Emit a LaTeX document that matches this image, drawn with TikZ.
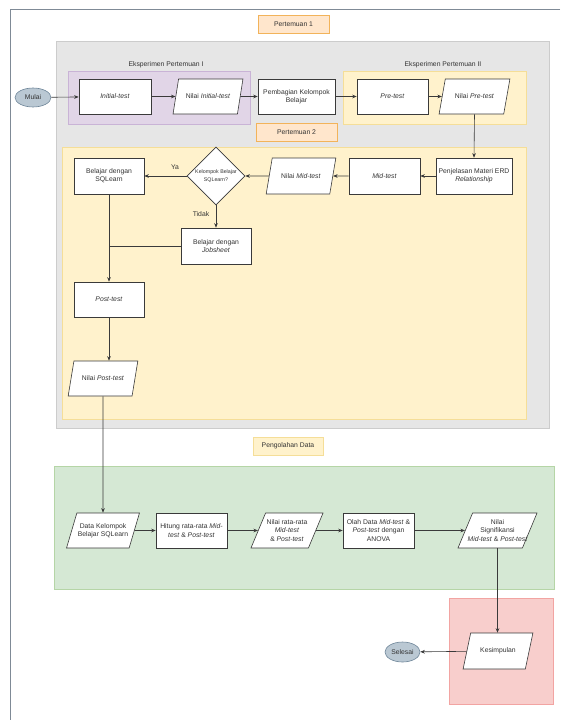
\documentclass[tikz,border=0pt]{standalone}
\usepackage{fontspec}
\setmainfont{Liberation Sans}
\usetikzlibrary{shapes.geometric,arrows.meta}
\definecolor{linec}{HTML}{3A3A3A}
\definecolor{txt}{HTML}{333333}
\definecolor{frame}{HTML}{7F8A96}
\definecolor{grayfill}{HTML}{E6E6E6}
\definecolor{grayline}{HTML}{CCCCCC}
\definecolor{purfill}{HTML}{E1D5E7}
\definecolor{purline}{HTML}{C9B3D6}
\definecolor{yelfill}{HTML}{FFF2CC}
\definecolor{yelline}{HTML}{F5DE98}
\definecolor{orfill}{HTML}{FFE6CC}
\definecolor{orline}{HTML}{F2B35A}
\definecolor{grnfill}{HTML}{D5E8D4}
\definecolor{grnline}{HTML}{B5D5A6}
\definecolor{redfill}{HTML}{F8CECC}
\definecolor{redline}{HTML}{F2A4A2}
\definecolor{termfill}{HTML}{BAC8D3}
\definecolor{termline}{HTML}{6F8699}
\begin{document}
\begin{tikzpicture}[x=1pt,y=-1pt,
  font=\fontsize{6.8}{8.2}\selectfont,
  every node/.style={text=txt},
  proc/.style={rectangle,draw=linec,fill=white,line width=0.6pt,align=center,inner sep=1pt},
  para/.style={trapezium,trapezium left angle=58,trapezium right angle=122,trapezium stretches=true,draw=linec,fill=white,line width=0.6pt,align=center,inner sep=1pt},
  term/.style={ellipse,draw=termline,fill=termfill,line width=0.6pt,inner sep=0pt},
  lab/.style={rectangle,draw=orline,fill=orfill,line width=0.6pt,inner sep=1pt},
  arr/.style={draw=linec,line width=0.6pt,-{Stealth[length=4.5pt,width=3.6pt]}},
  ln/.style={draw=linec,line width=0.6pt}]
\useasboundingbox (0,0) rectangle (560,720);
\fill[white] (0,0) rectangle (560,720);
% outer frame
\draw[frame,line width=0.7pt] (560,9.3) -- (10,9.3) -- (10,720);
% containers
\draw[fill=grayfill,draw=grayline,line width=0.7pt] (56,41) rectangle (549,428);
\draw[fill=purfill,draw=purline,line width=0.7pt] (68,71) rectangle (250,124);
\draw[fill=yelfill,draw=yelline,line width=0.7pt] (343,71) rectangle (526,124);
\draw[fill=yelfill,draw=yelline,line width=0.7pt] (62,147) rectangle (526,419);
\draw[fill=grnfill,draw=grnline,line width=0.7pt] (54,466) rectangle (554,589);
\draw[fill=redfill,draw=redline,line width=0.7pt] (449,598) rectangle (553,704);
% labels
\node[lab,minimum width=71,minimum height=18] (lab1) at (293.5,24) {Pertemuan 1};
\node[lab,minimum width=81,minimum height=18] (lab2) at (296.5,132) {Pertemuan 2};
\node[lab,draw=yelline,fill=yelfill,minimum width=70,minimum height=18] (lab3) at (288,446) {Pengolahan Data};
\node (eks1) at (166,65) {Eksperimen Pertemuan I};
\node (eks2) at (443,65) {Eksperimen Pertemuan II};
% nodes
\node[term,minimum width=36,minimum height=19] (mulai) at (33,97.5) {Mulai};
\node[proc,minimum width=72,minimum height=35] (init) at (115,96.5) {\textit{Initial-test}};
\node[para,minimum width=70,minimum height=35] (ninit) at (208,96.5) {Nilai \textit{Initial-test}};
\node[proc,minimum width=77,minimum height=35] (pemb) at (296.5,96.5) {Pembagian Kelompok\\Belajar};
\node[proc,minimum width=71,minimum height=35] (pre) at (392.5,96.5) {\textit{Pre-test}};
\node[para,minimum width=71,minimum height=35] (npre) at (474.5,96.5) {Nilai \textit{Pre-test}};
\node[proc,minimum width=76,minimum height=36] (pjl) at (474,176) {Penjelasan Materi ERD\\\textit{Relationship}};
\node[proc,minimum width=71,minimum height=36] (mid) at (384.5,176) {\textit{Mid-test}};
\node[para,minimum width=70,minimum height=36] (nmid) at (301,176) {Nilai \textit{Mid-test}};
\node[diamond,draw=linec,fill=white,line width=0.6pt,inner sep=0pt,minimum width=58,minimum height=58,align=center,font=\fontsize{5.3}{7.5}\selectfont] (dec) at (216,176) {Kelompok Belajar\\SQLearn?};
\node[proc,minimum width=70,minimum height=36] (sql) at (109,176) {Belajar dengan\\SQLearn};
\node[proc,minimum width=70,minimum height=36] (job) at (216,246) {Belajar dengan\\\textit{Jobsheet}};
\node[proc,minimum width=70,minimum height=35] (post) at (109,299.5) {\textit{Post-test}};
\node[para,minimum width=70,minimum height=35] (npost) at (103,378.5) {Nilai \textit{Post-test}};
\node[para,minimum width=70,minimum height=35] (data) at (103,530.5) {Data Kelompok\\Belajar SQLearn};
\node[proc,minimum width=71,minimum height=35] (hit) at (191.5,530.5) {Hitung rata-rata \textit{Mid-}\\\textit{test} \& \textit{Post-test}};
\node[para,minimum width=72,minimum height=35] (nrat) at (287,530.5) {Nilai rata-rata\\\textit{Mid-test}\\\& \textit{Post-test}};
\node[proc,minimum width=71,minimum height=35] (olah) at (378.5,530.5) {Olah Data \textit{Mid-test} \&\\\textit{Post-test} dengan\\ANOVA};
\node[para,inner xsep=-5pt,minimum width=79,minimum height=35] (nsig) at (497.5,530.5) {Nilai\\Signifikansi\\\textit{Mid-test} \& \textit{Post-test}};
\node[para,minimum width=70,minimum height=36] (kes) at (498,651) {Kesimpulan};
\node[term,minimum width=35,minimum height=20] (sel) at (402.5,652) {Selesai};
\node (ya) at (175,167) {Ya};
\node (tidak) at (201,214) {Tidak};
% connectors
\draw[arr] (mulai) -- (init);
\draw[arr] (init) -- (ninit);
\draw[arr] (ninit) -- (pemb);
\draw[arr] (pemb) -- (pre);
\draw[arr] (pre) -- (npre);
\draw[arr] (npre.south) -- (pjl.north);
\draw[arr] (pjl) -- (mid);
\draw[arr] (mid) -- (nmid);
\draw[arr] (nmid) -- (dec);
\draw[arr] (dec) -- (sql);
\draw[arr] (dec) -- (job);
\draw[ln] (job.west) -- (job.west -| sql.south);
\draw[arr] (sql) -- (post);
\draw[arr] (post.south) -- (post.south |- npost.north);
\draw[arr] (npost.south) -- (data.north);
\draw[arr] (data) -- (hit);
\draw[arr] (hit) -- (nrat);
\draw[arr] (nrat) -- (olah);
\draw[arr] (olah) -- (nsig);
\draw[arr] (nsig.south) -- (nsig.south |- kes.north);
\draw[arr] (kes) -- (sel);
\end{tikzpicture}
\end{document}
